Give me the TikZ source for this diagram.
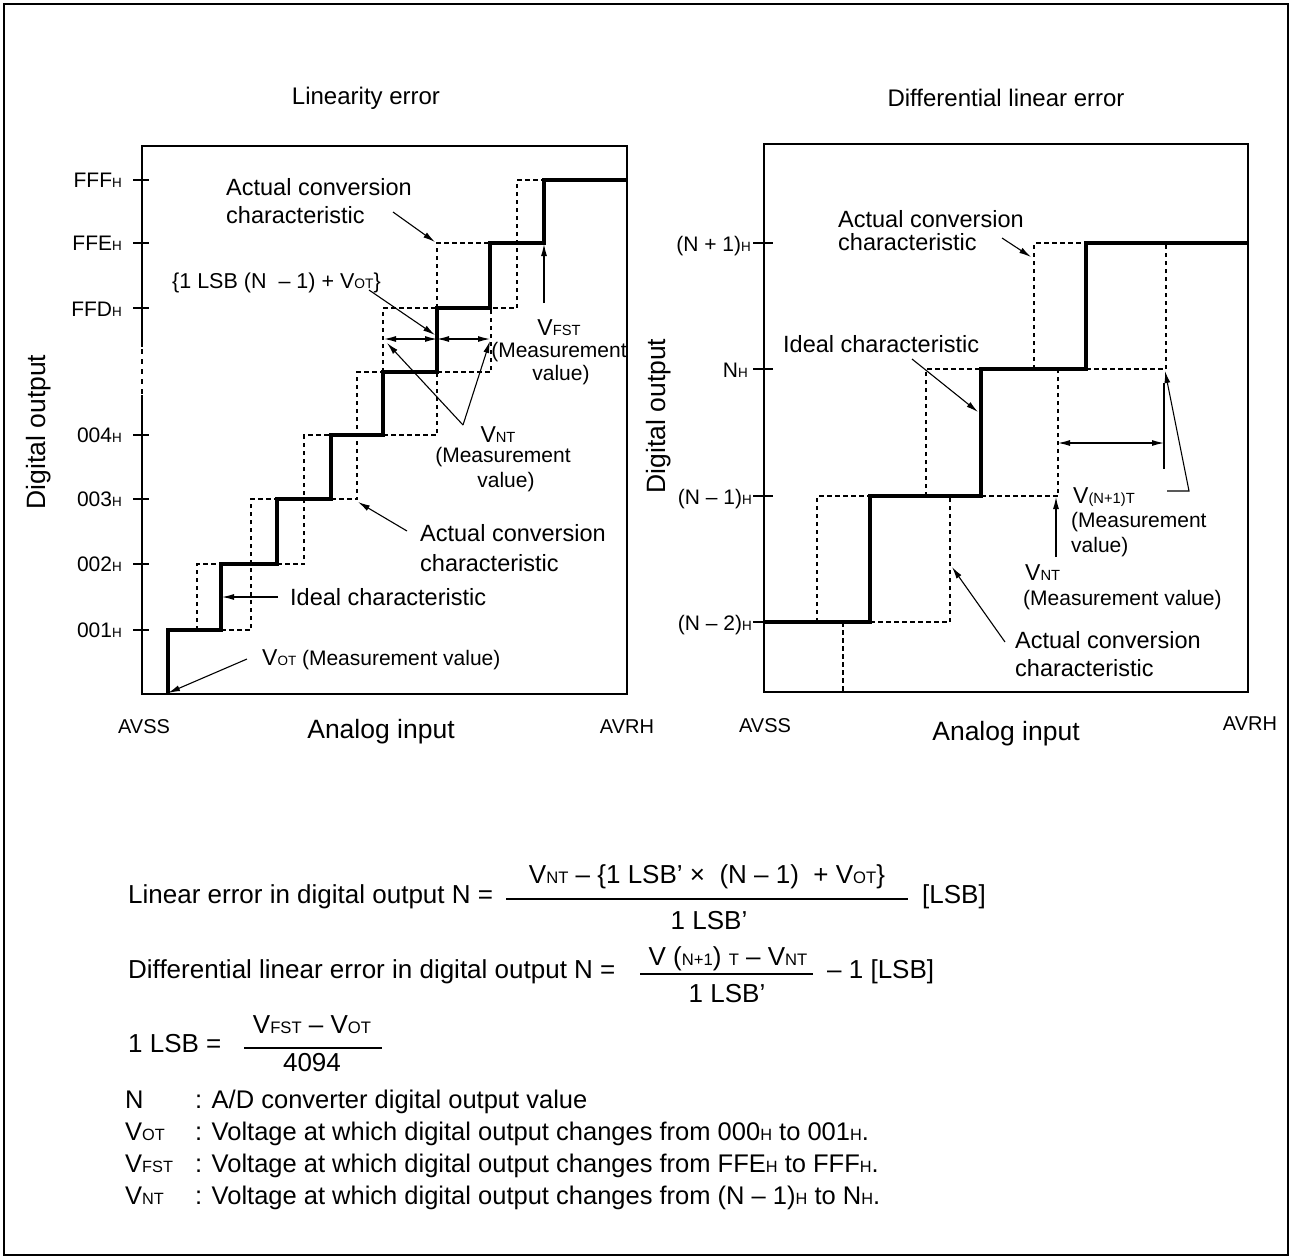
\documentclass[tikz,border=0pt]{standalone}
\usepackage{fontspec}
\setmainfont{Liberation Sans}
\usepackage{graphicx}
\usetikzlibrary{arrows.meta}
\newcommand\smc[1]{\scalebox{0.64}{#1}}
\newcommand\bigV{{\fontsize{23}{28}\selectfont V}}
\tikzset{
  frame/.style={line width=1.3pt},
  boxl/.style={line width=1.4pt},
  ideal/.style={line width=3.2pt, line join=miter},
  actual/.style={line width=1.2pt, dash pattern=on 4.5pt off 3.5pt},
  tickl/.style={line width=1.3pt},
  arr/.style={line width=1.1pt, -{Latex[length=12pt,width=6pt]}},
  darr/.style={line width=1.1pt, {Latex[length=12pt,width=6pt]}-{Latex[length=12pt,width=6pt]}},
  thin/.style={line width=1.1pt},
  fbar/.style={line width=1.8pt},
  lbl/.style={font=\fontsize{23.5}{28}\selectfont, inner sep=0pt},
  mlbl/.style={font=\fontsize{21}{25}\selectfont, inner sep=0pt},
  vl/.style={font=\fontsize{23}{28}\selectfont, inner sep=0pt},
  tk/.style={font=\fontsize{21}{25}\selectfont, inner sep=0pt},
  axl/.style={font=\fontsize{26.5}{30}\selectfont, inner sep=0pt},
  ttl/.style={font=\fontsize{24}{28}\selectfont, inner sep=0pt},
  avs/.style={font=\fontsize{20}{24}\selectfont, inner sep=0pt},
  ftx/.style={font=\fontsize{26}{30}\selectfont, inner sep=0pt},
  dtx/.style={font=\fontsize{25.5}{30}\selectfont, inner sep=0pt},
}
\begin{document}
\begin{tikzpicture}[x=1pt,y=-1pt]
\useasboundingbox (0,0) rectangle (1292,1259);
\draw[frame] (4,4) rectangle (1288,1255);

% ================= LEFT CHART =================
\draw[boxl] (142,347) -- (142,146) -- (627,146) -- (627,694) -- (142,694) -- (142,395);
\draw[line width=1.4pt, dash pattern=on 5pt off 5pt] (142,349) -- (142,395);

% ticks
\foreach \yy in {180,243,308,435,499,564,630} \draw[tickl] (133,\yy) -- (149,\yy);
\node[tk, anchor=base east] (lfff) at (122,187) {FFF\smc{H}};
\node[tk, anchor=base east] (lffe) at (122,250) {FFE\smc{H}};
\node[tk, anchor=base east] (lffd) at (122,316) {FFD\smc{H}};
\node[tk, anchor=base east] (l004) at (122,442) {004\smc{H}};
\node[tk, anchor=base east] (l003) at (122,506) {003\smc{H}};
\node[tk, anchor=base east] (l002) at (122,571) {002\smc{H}};
\node[tk, anchor=base east] (l001) at (122,637) {001\smc{H}};

% actual (dashed)
\draw[actual] (197,630) -- (197,564) -- (221,564);
\draw[actual] (221,630) -- (251,630) -- (251,499) -- (277,499);
\draw[actual] (277,564) -- (304,564) -- (304,435) -- (331,435);
\draw[actual] (331,499) -- (357,499) -- (357,372) -- (383,372);
\draw[actual] (383,435) -- (437,435) -- (437,372);
\draw[actual] (383,372) -- (383,308) -- (437,308);
\draw[actual] (437,308) -- (437,243) -- (490,243);
\draw[actual] (437,372) -- (491,372) -- (491,308) -- (517,308) -- (517,180) -- (544,180);

% ideal (thick)
\draw[ideal] (168,694) -- (168,630) -- (221,630) -- (221,564) -- (277,564) -- (277,499) -- (331,499)
  -- (331,435) -- (383,435) -- (383,372) -- (437,372) -- (437,308) -- (490,308) -- (490,243)
  -- (544,243) -- (544,180) -- (627,180);

% labels
\node[ttl, anchor=base] (ttlL) at (366,104) {Linearity error};
\node[lbl, anchor=base west] (acL1) at (226,195) {Actual conversion};
\node[lbl, anchor=base west] (acL2) at (226,223) {characteristic};
\node[font=\fontsize{21.5}{26}\selectfont, inner sep=0pt, anchor=base west] (lsbL) at (172,288) {\{1 LSB (N ~– 1) + V\smc{OT}\}};
\node[vl, anchor=base] (vfstL) at (559,335) {V\smc{FST}};
\node[mlbl, anchor=base] (vfstL2) at (559,357) {(Measurement};
\node[mlbl, anchor=base] (vfstL3) at (561,380) {value)};
\node[vl, anchor=base] (vntL) at (498,442) {V\smc{NT}};
\node[mlbl, anchor=base] (vntL2) at (503,462) {(Measurement};
\node[mlbl, anchor=base] (vntL3) at (506,487) {value)};
\node[lbl, anchor=base west] (acB1) at (420,541) {Actual conversion};
\node[lbl, anchor=base west] (acB2) at (420,571) {characteristic};
\node[lbl, anchor=base west] (idL) at (290,605) {Ideal characteristic};
\node[mlbl, anchor=base west] (votL) at (262,665) {\bigV\smc{OT} (Measurement value)};
\node[avs, anchor=base] (avssL) at (144,733) {AVSS};
\node[axl, anchor=base] (aiL) at (381,738) {Analog input};
\node[avs, anchor=base] (avrhL) at (627,733) {AVRH};
\node[axl, rotate=90, anchor=base] (doL) at (45,432) {Digital output};

% arrows left
\coordinate (p1s) at (393,212); \coordinate (p1e) at (435,242);
\draw[arr] (p1s) -- (p1e);
\coordinate (p2s) at (369,290); \coordinate (p2e) at (435,335);
\draw[arr] (p2s) -- (p2e);
\coordinate (dA) at (384,339); \coordinate (dB) at (437,339); \coordinate (dC) at (490,339);
\draw[darr] (dA) -- (dB);
\draw[darr] (dB) -- (dC);
\coordinate (vnS) at (463,425); \coordinate (vnA) at (387,343); \coordinate (vnB) at (490,341);
\draw[arr] (vnS) -- (vnA);
\draw[arr] (vnS) -- (vnB);
\coordinate (vfS) at (544,303); \coordinate (vfE) at (544,244);
\draw[arr] (vfS) -- (vfE);
\coordinate (p3s) at (407,531); \coordinate (p3e) at (358,502);
\draw[arr] (p3s) -- (p3e);
\coordinate (p4s) at (278,597); \coordinate (p4e) at (222,597);
\draw[arr] (p4s) -- (p4e);
\coordinate (p5s) at (247,659); \coordinate (p5e) at (168,693);
\draw[arr] (p5s) -- (p5e);

% ================= RIGHT CHART =================
\draw[boxl] (764,144) rectangle (1248,692);
\foreach \yy in {243,369,496,622} \draw[tickl] (753,\yy) -- (773,\yy);
\node[tk, anchor=base east] (rn1) at (751,251) {(N + 1)\smc{H}};
\node[tk, anchor=base east] (rn0) at (748,377) {N\smc{H}};
\node[tk, anchor=base east] (rm1) at (752,504) {(N – 1)\smc{H}};
\node[tk, anchor=base east] (rm2) at (752,630) {(N – 2)\smc{H}};

\draw[actual] (817,622) -- (817,496) -- (870,496);
\draw[actual] (843,622) -- (843,692);
\draw[actual] (870,622) -- (950,622) -- (950,496);
\draw[actual] (926,496) -- (926,369) -- (981,369);
\draw[actual] (981,496) -- (1058,496) -- (1058,369);
\draw[actual] (1034,369) -- (1034,243) -- (1086,243);
\draw[actual] (1086,369) -- (1166,369) -- (1166,243);

\draw[ideal] (764,622) -- (870,622) -- (870,496) -- (981,496) -- (981,369) -- (1086,369) -- (1086,243) -- (1248,243);

\node[ttl, anchor=base] (ttlR) at (1006,106) {Differential linear error};
\node[lbl, anchor=base west] (acR1) at (838,227) {Actual conversion};
\node[lbl, anchor=base west] (acR2) at (838,250) {characteristic};
\node[lbl, anchor=base west] (idR) at (783,352) {Ideal characteristic};
\node[vl, anchor=base west] (vn1R) at (1073,503) {V\smc{(N+1)T}};
\node[mlbl, anchor=base west] (vn1R2) at (1071,527) {(Measurement};
\node[mlbl, anchor=base west] (vn1R3) at (1071,552) {value)};
\node[vl, anchor=base west] (vntR) at (1025,580) {V\smc{NT}};
\node[mlbl, anchor=base west] (vntR2) at (1023,605) {(Measurement value)};
\node[lbl, anchor=base west] (acRB1) at (1015,648) {Actual conversion};
\node[lbl, anchor=base west] (acRB2) at (1015,676) {characteristic};
\node[avs, anchor=base] (avssR) at (765,732) {AVSS};
\node[axl, anchor=base] (aiR) at (1006,740) {Analog input};
\node[avs, anchor=base] (avrhR) at (1250,730) {AVRH};
\node[axl, rotate=90, anchor=base] (doR) at (665,416) {Digital output};

\coordinate (q1s) at (1002,238); \coordinate (q1e) at (1031,257);
\draw[arr] (q1s) -- (q1e);
\coordinate (q2s) at (912,359); \coordinate (q2e) at (978,412);
\draw[arr] (q2s) -- (q2e);
\coordinate (xA) at (1058,443); \coordinate (xB) at (1164,443);
\draw[darr] (xA) -- (xB);
\coordinate (ext1) at (1164,383); \coordinate (ext2) at (1164,469);
\draw[thin] (ext1) -- (ext2);
\coordinate (q3a) at (1167,491); \coordinate (q3b) at (1189,491); \coordinate (q3e) at (1165,371);
\draw[arr] (q3a) -- (q3b) -- (q3e);
\coordinate (q4s) at (1056,557); \coordinate (q4e) at (1056,497);
\draw[arr] (q4s) -- (q4e);
\coordinate (q5s) at (1005,642); \coordinate (q5e) at (952,567);
\draw[arr] (q5s) -- (q5e);

% ================= FORMULAS =================
\node[ftx, anchor=base west] (f1l) at (128,903) {Linear error in digital output N =};
\node[ftx, anchor=base] (f1n) at (707,883) {V\smc{NT} – \{1 LSB’ ×~~(N – 1)~~+ V\smc{OT}\}};
\coordinate (b1a) at (506,899); \coordinate (b1b) at (908,899);
\draw[fbar] (b1a) -- (b1b);
\node[ftx, anchor=base] (f1d) at (709,929) {1 LSB’};
\node[ftx, anchor=base west] (f1u) at (922,903) {[LSB]};

\node[ftx, anchor=base west] (f2l) at (128,978) {Differential linear error in digital output N =};
\node[ftx, anchor=base] (f2n) at (728,965) {V (\smc{N+1}) \smc{T} – V\smc{NT}};
\coordinate (b2a) at (640,974); \coordinate (b2b) at (813,974);
\draw[fbar] (b2a) -- (b2b);
\node[ftx, anchor=base] (f2d) at (727,1002) {1 LSB’};
\node[ftx, anchor=base west] (f2u) at (827,978) {– 1 [LSB]};

\node[ftx, anchor=base west] (f3l) at (128,1052) {1 LSB =};
\node[ftx, anchor=base] (f3n) at (312,1033) {V\smc{FST} – V\smc{OT}};
\coordinate (b3a) at (244,1048); \coordinate (b3b) at (382,1048);
\draw[fbar] (b3a) -- (b3b);
\node[ftx, anchor=base] (f3d) at (312,1071) {4094};

\node[dtx, anchor=base west] (d1a) at (125,1108) {N};
\node[dtx, anchor=base west] (d1b) at (195,1108) {: A/D converter digital output value};
\node[dtx, anchor=base west] (d2a) at (125,1140) {V\smc{OT}};
\node[dtx, anchor=base west] (d2b) at (195,1140) {: Voltage at which digital output changes from 000\smc{H} to 001\smc{H}.};
\node[dtx, anchor=base west] (d3a) at (125,1172) {V\smc{FST}};
\node[dtx, anchor=base west] (d3b) at (195,1172) {: Voltage at which digital output changes from FFE\smc{H} to FFF\smc{H}.};
\node[dtx, anchor=base west] (d4a) at (125,1204) {V\smc{NT}};
\node[dtx, anchor=base west] (d4b) at (195,1204) {: Voltage at which digital output changes from (N – 1)\smc{H} to N\smc{H}.};
\end{tikzpicture}
\end{document}
